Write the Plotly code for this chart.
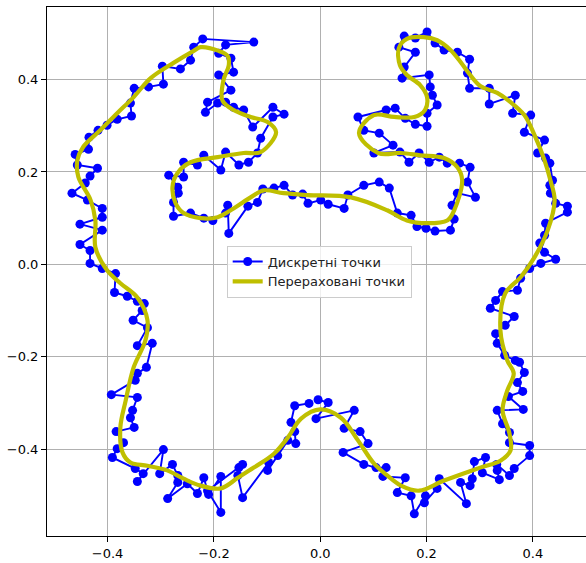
import plotly.graph_objects as go

# Discrete (noisy) contour points, in traversal order
disc_x = [
    -0.004, 0.015, -0.008, 0.064, 0.045, 0.075, 0.090, 0.043, 0.082, 0.105,
    0.124, 0.118, 0.160, 0.145, 0.171, 0.177, 0.198, 0.196, 0.220, 0.224,
    0.275, 0.264, 0.282, 0.286, 0.290, 0.311, 0.305, 0.337, 0.333, 0.332,
    0.356, 0.365, 0.394, 0.394, 0.356, 0.356, 0.343, 0.333, 0.382, 0.354,
    0.381, 0.371, 0.384, 0.375, 0.367, 0.347, 0.333, 0.330, 0.348, 0.365,
    0.320, 0.330, 0.343, 0.371, 0.377, 0.394, 0.415, 0.443, 0.422, 0.413,
    0.422, 0.424, 0.465, 0.465, 0.443, 0.433, 0.432, 0.437, 0.432, 0.424,
    0.409, 0.422, 0.384, 0.396, 0.362, 0.367, 0.318, 0.318, 0.281, 0.277,
    0.281, 0.258, 0.233, 0.216, 0.201, 0.179, 0.158, 0.148, 0.179, 0.158,
    0.154, 0.205, 0.207, 0.211, 0.220, 0.201, 0.201, 0.179, 0.160, 0.141,
    0.124, 0.071, 0.082, 0.111, 0.137, 0.101, 0.150, 0.167, 0.186, 0.205,
    0.224, 0.239, 0.262, 0.282, 0.277, 0.292, 0.258, 0.248, 0.252, 0.245,
    0.216, 0.199, 0.182, 0.171, 0.145, 0.130, 0.111, 0.082, 0.052, 0.045,
    0.015, 0.001, -0.023, -0.033, -0.052, -0.068, -0.087, -0.108, -0.118, -0.136,
    -0.172, -0.174, -0.178, -0.202, -0.219, -0.244, -0.276, -0.276, -0.267, -0.268,
    -0.285, -0.257, -0.257, -0.231, -0.219, -0.187, -0.178, -0.153, -0.135, -0.118,
    -0.112, -0.089, -0.068, -0.089, -0.127, -0.144, -0.163, -0.178, -0.193, -0.216,
    -0.212, -0.168, -0.191, -0.163, -0.168, -0.191, -0.178, -0.125, -0.221, -0.238,
    -0.244, -0.263, -0.297, -0.295, -0.323, -0.350, -0.357, -0.355, -0.382, -0.401,
    -0.418, -0.435, -0.436, -0.461, -0.457, -0.419, -0.433, -0.442, -0.467, -0.438,
    -0.410, -0.410, -0.452, -0.410, -0.452, -0.433, -0.433, -0.410, -0.385, -0.387,
    -0.363, -0.344, -0.331, -0.335, -0.352, -0.325, -0.344, -0.316, -0.327, -0.344,
    -0.348, -0.393, -0.344, -0.353, -0.357, -0.350, -0.384, -0.370, -0.382, -0.391,
    -0.348, -0.333, -0.344, -0.295, -0.302, -0.278, -0.268, -0.268, -0.287, -0.250,
    -0.231, -0.219, -0.210, -0.187, -0.187, -0.212, -0.153, -0.146, -0.155, -0.146,
    -0.097, -0.099, -0.080, -0.061, -0.046, -0.048, -0.055, -0.048, -0.021,
]
disc_y = [
    -0.293, -0.299, -0.334, -0.316, -0.355, -0.362, -0.388, -0.407, -0.433, -0.440,
    -0.440, -0.459, -0.462, -0.494, -0.501, -0.540, -0.501, -0.516, -0.485, -0.464,
    -0.518, -0.472, -0.479, -0.464, -0.427, -0.418, -0.451, -0.466, -0.446, -0.433,
    -0.457, -0.442, -0.414, -0.392, -0.386, -0.364, -0.345, -0.316, -0.314, -0.286,
    -0.275, -0.256, -0.234, -0.212, -0.208, -0.197, -0.171, -0.150, -0.132, -0.113,
    -0.095, -0.078, -0.059, -0.056, -0.030, -0.009, 0.002, 0.011, 0.026, 0.046,
    0.063, 0.089, 0.113, 0.126, 0.132, 0.154, 0.171, 0.182, 0.219, 0.230,
    0.241, 0.269, 0.286, 0.323, 0.327, 0.366, 0.347, 0.381, 0.381, 0.414,
    0.444, 0.459, 0.464, 0.479, 0.503, 0.490, 0.494, 0.470, 0.459, 0.427,
    0.403, 0.410, 0.384, 0.366, 0.345, 0.327, 0.299, 0.303, 0.316, 0.338,
    0.334, 0.319, 0.290, 0.284, 0.258, 0.241, 0.243, 0.221, 0.241, 0.221,
    0.232, 0.219, 0.219, 0.210, 0.178, 0.145, 0.154, 0.128, 0.098, 0.074,
    0.072, 0.078, 0.082, 0.106, 0.111, 0.165, 0.178, 0.171, 0.150, 0.121,
    0.130, 0.139, 0.132, 0.152, 0.150, 0.171, 0.165, 0.163, 0.134, 0.126,
    0.067, 0.128, 0.111, 0.095, 0.100, 0.111, 0.104, 0.134, 0.154, 0.167,
    0.193, 0.189, 0.221, 0.215, 0.236, 0.204, 0.243, 0.215, 0.221, 0.241,
    0.273, 0.319, 0.325, 0.340, 0.297, 0.334, 0.340, 0.351, 0.349, 0.329,
    0.351, 0.377, 0.410, 0.416, 0.446, 0.457, 0.475, 0.481, 0.488, 0.470,
    0.442, 0.423, 0.429, 0.390, 0.384, 0.381, 0.349, 0.321, 0.314, 0.301,
    0.290, 0.275, 0.249, 0.238, 0.215, 0.208, 0.191, 0.176, 0.154, 0.139,
    0.121, 0.102, 0.087, 0.074, 0.043, 0.030, 0.002, -0.009, -0.020, -0.061,
    -0.069, -0.080, -0.085, -0.100, -0.121, -0.137, -0.176, -0.171, -0.223, -0.236,
    -0.251, -0.282, -0.288, -0.316, -0.332, -0.353, -0.362, -0.386, -0.399, -0.418,
    -0.442, -0.453, -0.470, -0.401, -0.453, -0.433, -0.457, -0.472, -0.507, -0.475,
    -0.496, -0.462, -0.498, -0.459, -0.537, -0.490, -0.440, -0.433, -0.457, -0.505,
    -0.429, -0.446, -0.414, -0.381, -0.388, -0.362, -0.342, -0.306, -0.301,
]

# Recomputed (smoothed) contour key points, closed loop
smooth_x = [
    0.000, 0.039, 0.071, 0.101, 0.126, 0.152, 0.186, 0.233, 0.301, 0.339,
    0.358, 0.356, 0.343, 0.352, 0.364, 0.352, 0.339, 0.348, 0.377, 0.403,
    0.428, 0.441, 0.433, 0.422, 0.403, 0.384, 0.358, 0.333, 0.301, 0.282,
    0.264, 0.245, 0.220, 0.195, 0.163, 0.148, 0.150, 0.163, 0.188, 0.201,
    0.197, 0.177, 0.139, 0.101, 0.073, 0.109, 0.152, 0.188, 0.233, 0.258,
    0.267, 0.252, 0.239, 0.201, 0.163, 0.126, 0.058, -0.023, -0.069, -0.106,
    -0.131, -0.163, -0.193, -0.225, -0.257, -0.272, -0.278, -0.269, -0.244, -0.193,
    -0.144, -0.112, -0.083, -0.099, -0.131, -0.163, -0.184, -0.182, -0.172, -0.174,
    -0.191, -0.225, -0.238, -0.276, -0.319, -0.351, -0.382, -0.414, -0.446, -0.457,
    -0.455, -0.432, -0.423, -0.423, -0.401, -0.376, -0.344, -0.325, -0.329, -0.351,
    -0.366, -0.376, -0.372, -0.357, -0.325, -0.288, -0.257, -0.225, -0.187, -0.155,
    -0.125, -0.087, -0.061, -0.036, 0.000,
]
smooth_y = [
    -0.314, -0.332, -0.381, -0.431, -0.457, -0.479, -0.490, -0.468, -0.440, -0.425,
    -0.403, -0.366, -0.316, -0.273, -0.236, -0.208, -0.143, -0.063, -0.028, 0.015,
    0.074, 0.139, 0.182, 0.225, 0.280, 0.323, 0.351, 0.371, 0.386, 0.410,
    0.438, 0.464, 0.485, 0.492, 0.488, 0.468, 0.431, 0.410, 0.388, 0.362,
    0.334, 0.319, 0.319, 0.323, 0.284, 0.241, 0.241, 0.236, 0.230, 0.210,
    0.182, 0.117, 0.095, 0.089, 0.095, 0.117, 0.145, 0.150, 0.154, 0.160,
    0.145, 0.121, 0.102, 0.100, 0.111, 0.132, 0.167, 0.197, 0.221, 0.232,
    0.241, 0.243, 0.286, 0.308, 0.319, 0.334, 0.355, 0.399, 0.431, 0.451,
    0.462, 0.470, 0.462, 0.436, 0.403, 0.362, 0.327, 0.290, 0.254, 0.225,
    0.189, 0.139, 0.095, 0.037, -0.013, -0.041, -0.072, -0.121, -0.165, -0.223,
    -0.295, -0.353, -0.407, -0.429, -0.436, -0.446, -0.464, -0.479, -0.485, -0.462,
    -0.440, -0.410, -0.375, -0.334, -0.314,
]

x_ticks = [-0.4, -0.2, 0.0, 0.2, 0.4]
y_ticks = [-0.4, -0.2, 0.0, 0.2, 0.4]

FONT = "DejaVu Sans"

fig = go.Figure()

fig.add_trace(go.Scatter(
    x=disc_x, y=disc_y,
    mode="lines+markers",
    name="Дискретні точки",
    line=dict(color="#0000ff", width=1.9),
    marker=dict(color="#0000ff", size=9, line=dict(width=0)),
))

fig.add_trace(go.Scatter(
    x=smooth_x, y=smooth_y,
    mode="lines",
    name="Перераховані точки",
    line=dict(color="#bfbf00", width=4.2, shape="spline", smoothing=1.0),
))

axis_common = dict(
    showgrid=True, gridcolor="#b0b0b0", gridwidth=1,
    zeroline=False,
    ticks="outside", ticklen=5, tickwidth=1, tickcolor="black",
    tickfont=dict(family=FONT, size=13, color="black"),
    tickformat=".1f",
    showline=True, linecolor="black", linewidth=1,
)

fig.update_layout(
    width=586, height=563,
    margin=dict(l=47, r=0, t=7, b=27),
    plot_bgcolor="white",
    paper_bgcolor="white",
    font=dict(family=FONT, size=13, color="black"),
    xaxis=dict(range=[-0.514, 0.500], tickvals=x_ticks, mirror=True, **axis_common),
    yaxis=dict(range=[-0.588, 0.557], tickvals=y_ticks, mirror=False, **axis_common),
    legend=dict(
        x=0.505, y=0.5, xanchor="center", yanchor="middle",
        bgcolor="rgba(255,255,255,0.8)",
        bordercolor="#cccccc", borderwidth=1,
        font=dict(family=FONT, size=13, color="#222222"),
        itemwidth=30,
        tracegroupgap=2,
    ),
    showlegend=True,
)

fig.write_html("out.html")
